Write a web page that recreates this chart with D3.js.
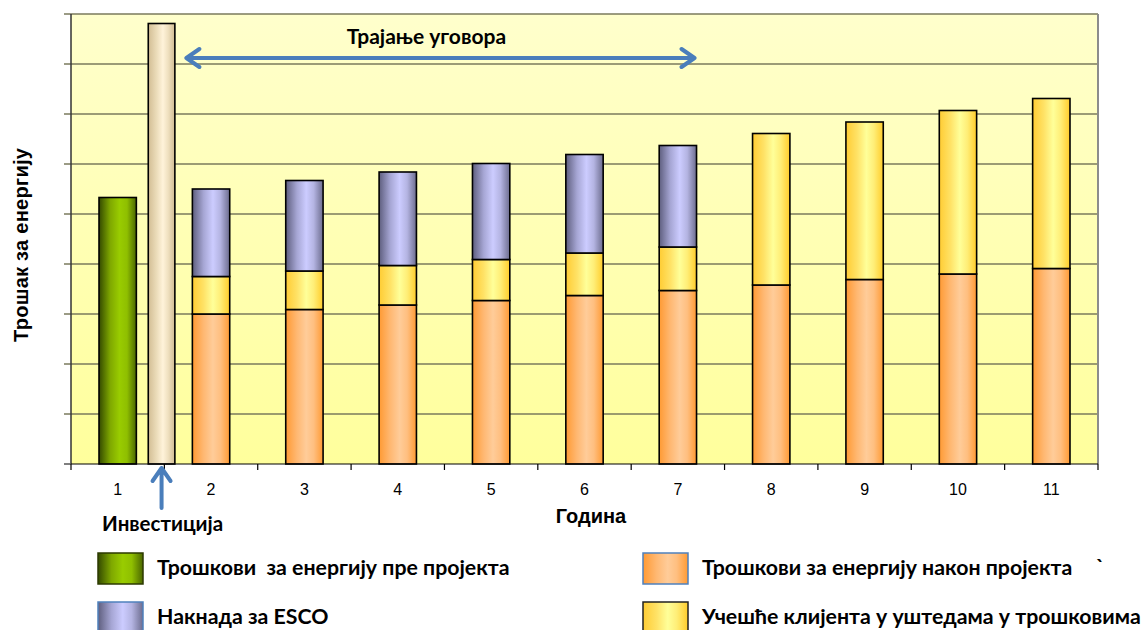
<!DOCTYPE html>
<html>
<head>
<meta charset="utf-8">
<script src="https://cdn.jsdelivr.net/npm/d3@7"></script>
<style>
  html, body { margin: 0; padding: 0; background: #ffffff; }
  svg { display: block; }
  .bold { font-family: Lato, "Noto Sans", sans-serif; font-weight: 700; white-space: pre; }
  .arial { font-family: "Liberation Sans", Arial, sans-serif; }
</style>
</head>
<body>
<svg id="chart" width="1141" height="630"></svg>
<script>
// Years on the horizontal axis
const years = ["1", "2", "3", "4", "5", "6", "7", "8", "9", "10", "11"];

// Energy cost before the project (year 1 only)
const costBefore = [5.33, 0, 0, 0, 0, 0, 0, 0, 0, 0, 0];
// One-off investment, shown next to year 1
const investment = 8.81;
// Energy cost after the project
const costAfter = [0, 3.0, 3.09, 3.18, 3.27, 3.37, 3.47, 3.58, 3.69, 3.80, 3.91];
// Client's share of the cost savings
const clientShare = [0, 0.75, 0.77, 0.79, 0.82, 0.85, 0.87, 3.03, 3.15, 3.27, 3.40];
// ESCO fee during the contract (years 2–7)
const escoFee = [0, 1.75, 1.81, 1.87, 1.92, 1.97, 2.03, 0, 0, 0, 0];

const gridValues = [0, 1, 2, 3, 4, 5, 6, 7, 8, 9];

const legendItems = [
  { key: "before", label: "Трошкови  за енергију пре пројекта", col: 0, row: 0 },
  { key: "after", label: "Трошкови за енергију након пројекта", col: 1, row: 0 },
  { key: "esco", label: "Накнада за ESCO", col: 0, row: 1 },
  { key: "share", label: "Учешће клијента у уштедама у трошковима", col: 1, row: 1 }
];

const svg = d3.select("#chart");
const plot = { left: 71, right: 1098, top: 14, bottom: 464 };

const x = d3.scaleBand().domain(years).range([plot.left, plot.right]).paddingInner(0).paddingOuter(0);
const bw = x.bandwidth() * 0.4;
const y = d3.scaleLinear().domain([0, 9]).range([plot.bottom, plot.top]);

// ---- gradients ----
const defs = svg.append("defs");
const bg = defs.append("linearGradient").attr("id", "bg").attr("x1", 0).attr("y1", 0).attr("x2", 0).attr("y2", 1);
bg.append("stop").attr("offset", "0%").attr("stop-color", "#ffffcc");
bg.append("stop").attr("offset", "100%").attr("stop-color", "#ffff9c");

const fills = {
  before: ["#344a00", "#7fa800", "#99cc00", "#8fbf00", "#4a6600"],
  invest: ["#d2bd94", "#eadbb8", "#fff3da", "#efe0bf", "#d0bb93"],
  after:  ["#ff9a33", "#ffb872", "#ffcc99", "#ffbf80", "#ff9a33"],
  share:  ["#ffcc33", "#ffe266", "#ffff99", "#ffee77", "#ffcc2a"],
  esco:   ["#5e5e7e", "#a6a6d4", "#ccccff", "#b4b4e2", "#6c6c8e"]
};
Object.entries(fills).forEach(([k, c]) => {
  const g = defs.append("linearGradient").attr("id", "g-" + k).attr("x1", 0).attr("y1", 0).attr("x2", 1).attr("y2", 0);
  [0, 30, 55, 75, 100].forEach((o, i) => g.append("stop").attr("offset", o + "%").attr("stop-color", c[i]));
});

// ---- plot background ----
svg.append("rect").attr("x", plot.left).attr("y", plot.top)
  .attr("width", plot.right - plot.left).attr("height", plot.bottom - plot.top)
  .attr("fill", "url(#bg)");

// gridlines + left ticks
svg.append("g").selectAll("line").data(gridValues.filter(v => v > 0)).join("line")
  .attr("x1", plot.left - 7).attr("x2", plot.right)
  .attr("y1", d => y(d)).attr("y2", d => y(d))
  .attr("stroke", "#7a7a5c").attr("stroke-width", 1.6);

// right border of plot
svg.append("line").attr("x1", plot.right).attr("x2", plot.right)
  .attr("y1", plot.top).attr("y2", plot.bottom)
  .attr("stroke", "#8c8c8c").attr("stroke-width", 2);

// left axis
svg.append("line").attr("x1", plot.left).attr("x2", plot.left)
  .attr("y1", plot.top).attr("y2", plot.bottom)
  .attr("stroke", "#333333").attr("stroke-width", 1.5);
svg.append("line").attr("x1", plot.left - 7).attr("x2", plot.left)
  .attr("y1", plot.bottom).attr("y2", plot.bottom)
  .attr("stroke", "#555555").attr("stroke-width", 1.5);

// ---- bars ----
const table = years.map((yr, i) => ({ year: yr, after: costAfter[i], share: clientShare[i], esco: escoFee[i] }));
const stack = d3.stack().keys(["after", "share", "esco"])(table);

const bars = svg.append("g").attr("stroke", "#000").attr("stroke-width", 1.6);

stack.forEach(layer => {
  bars.append("g").selectAll("rect").data(layer.filter(d => d[1] - d[0] > 0)).join("rect")
    .attr("x", d => x(d.data.year) + (x.bandwidth() - bw) / 2)
    .attr("width", bw)
    .attr("y", d => y(d[1]))
    .attr("height", d => y(d[0]) - y(d[1]))
    .attr("fill", "url(#g-" + layer.key + ")");
});

// energy cost before the project
bars.append("g").selectAll("rect").data(years.map((yr, i) => ({ year: yr, v: costBefore[i] })).filter(d => d.v > 0)).join("rect")
  .attr("x", d => x(d.year) + (x.bandwidth() - bw) / 2)
  .attr("width", bw)
  .attr("y", d => y(d.v))
  .attr("height", d => y(0) - y(d.v))
  .attr("fill", "url(#g-before)");

// investment bar, between years 1 and 2
const invW = x.bandwidth() * 0.285;
const invCx = x("1") + x.bandwidth() * 0.97;
bars.append("rect")
  .attr("x", invCx - invW / 2).attr("width", invW)
  .attr("y", y(investment)).attr("height", y(0) - y(investment))
  .attr("fill", "url(#g-invest)");

// bottom axis with ticks at category boundaries
svg.append("line").attr("x1", plot.left).attr("x2", plot.right)
  .attr("y1", plot.bottom).attr("y2", plot.bottom)
  .attr("stroke", "#000").attr("stroke-width", 1.2);
svg.append("g").selectAll("line").data(years.concat(["end"])).join("line")
  .attr("x1", d => d === "end" ? plot.right : x(d))
  .attr("x2", d => d === "end" ? plot.right : x(d))
  .attr("y1", plot.bottom).attr("y2", plot.bottom + 6)
  .attr("stroke", "#000").attr("stroke-width", 1.2);

svg.append("g").selectAll("text").data(years).join("text")
  .attr("class", "arial")
  .attr("x", d => x(d) + x.bandwidth() / 2)
  .attr("y", 495)
  .attr("text-anchor", "middle")
  .attr("font-size", 16)
  .attr("fill", "#000")
  .text(d => d);

// axis titles
svg.append("text").attr("class", "arial")
  .attr("x", 591).attr("y", 523).attr("text-anchor", "middle")
  .attr("font-size", 20).attr("font-weight", 700).text("Година");

svg.append("text").attr("class", "arial")
  .attr("transform", "translate(28,245) rotate(-90)")
  .attr("text-anchor", "middle")
  .attr("font-size", 20).attr("font-weight", 700)
  .attr("textLength", 194).attr("lengthAdjust", "spacing")
  .text("Трошак за енергију");

// ---- contract duration arrow ----
const arrowColor = "#4a7ebb";
const aL = x("2") + (x.bandwidth() - bw) / 2 - 6;
const aR = x("7") + (x.bandwidth() + bw) / 2 - 2;
const aY = 58;
svg.append("path")
  .attr("d", `M${aL + 13},${aY - 9} L${aL},${aY} L${aL + 13},${aY + 9} M${aL},${aY} L${aR},${aY} M${aR - 13},${aY - 9} L${aR},${aY} L${aR - 13},${aY + 9}`)
  .attr("fill", "none").attr("stroke", arrowColor).attr("stroke-width", 4)
  .attr("stroke-linejoin", "round").attr("stroke-linecap", "round");
svg.append("text").attr("class", "bold")
  .attr("x", (aL + aR) / 2 - 14).attr("y", 44).attr("text-anchor", "middle")
  .attr("font-size", 21).text("Трајање уговора");

// ---- investment marker ----
const iTop = plot.bottom + 4;
svg.append("path")
  .attr("d", `M${invCx - 9},${iTop + 13} L${invCx},${iTop} L${invCx + 9},${iTop + 13} M${invCx},${iTop} L${invCx},${iTop + 40}`)
  .attr("fill", "none").attr("stroke", arrowColor).attr("stroke-width", 4)
  .attr("stroke-linejoin", "round").attr("stroke-linecap", "round");
svg.append("text").attr("class", "bold")
  .attr("x", 102).attr("y", 531)
  .attr("font-size", 20.5).text("Инвестиција");

// ---- legend ----
const swatchBorder = { before: "#2c3a00", after: "#4f81bd", esco: "#4f81bd", share: "#222222" };
const colX = [98, 643];
const rowY = [553, 602];
const leg = svg.append("g");
legendItems.forEach(it => {
  const sx = colX[it.col], sy = rowY[it.row];
  leg.append("rect").attr("x", sx).attr("y", sy).attr("width", 45).attr("height", 31)
    .attr("fill", "url(#g-" + it.key + ")")
    .attr("stroke", swatchBorder[it.key]).attr("stroke-width", 1.5);
  leg.append("text").attr("class", "bold")
    .attr("x", sx + 59).attr("y", sy + 22)
    .attr("font-size", 21.3).text(it.label);
});
leg.append("text").attr("class", "bold").attr("x", 1096).attr("y", 574).attr("font-size", 21).text("`");
</script>
</body>
</html>
